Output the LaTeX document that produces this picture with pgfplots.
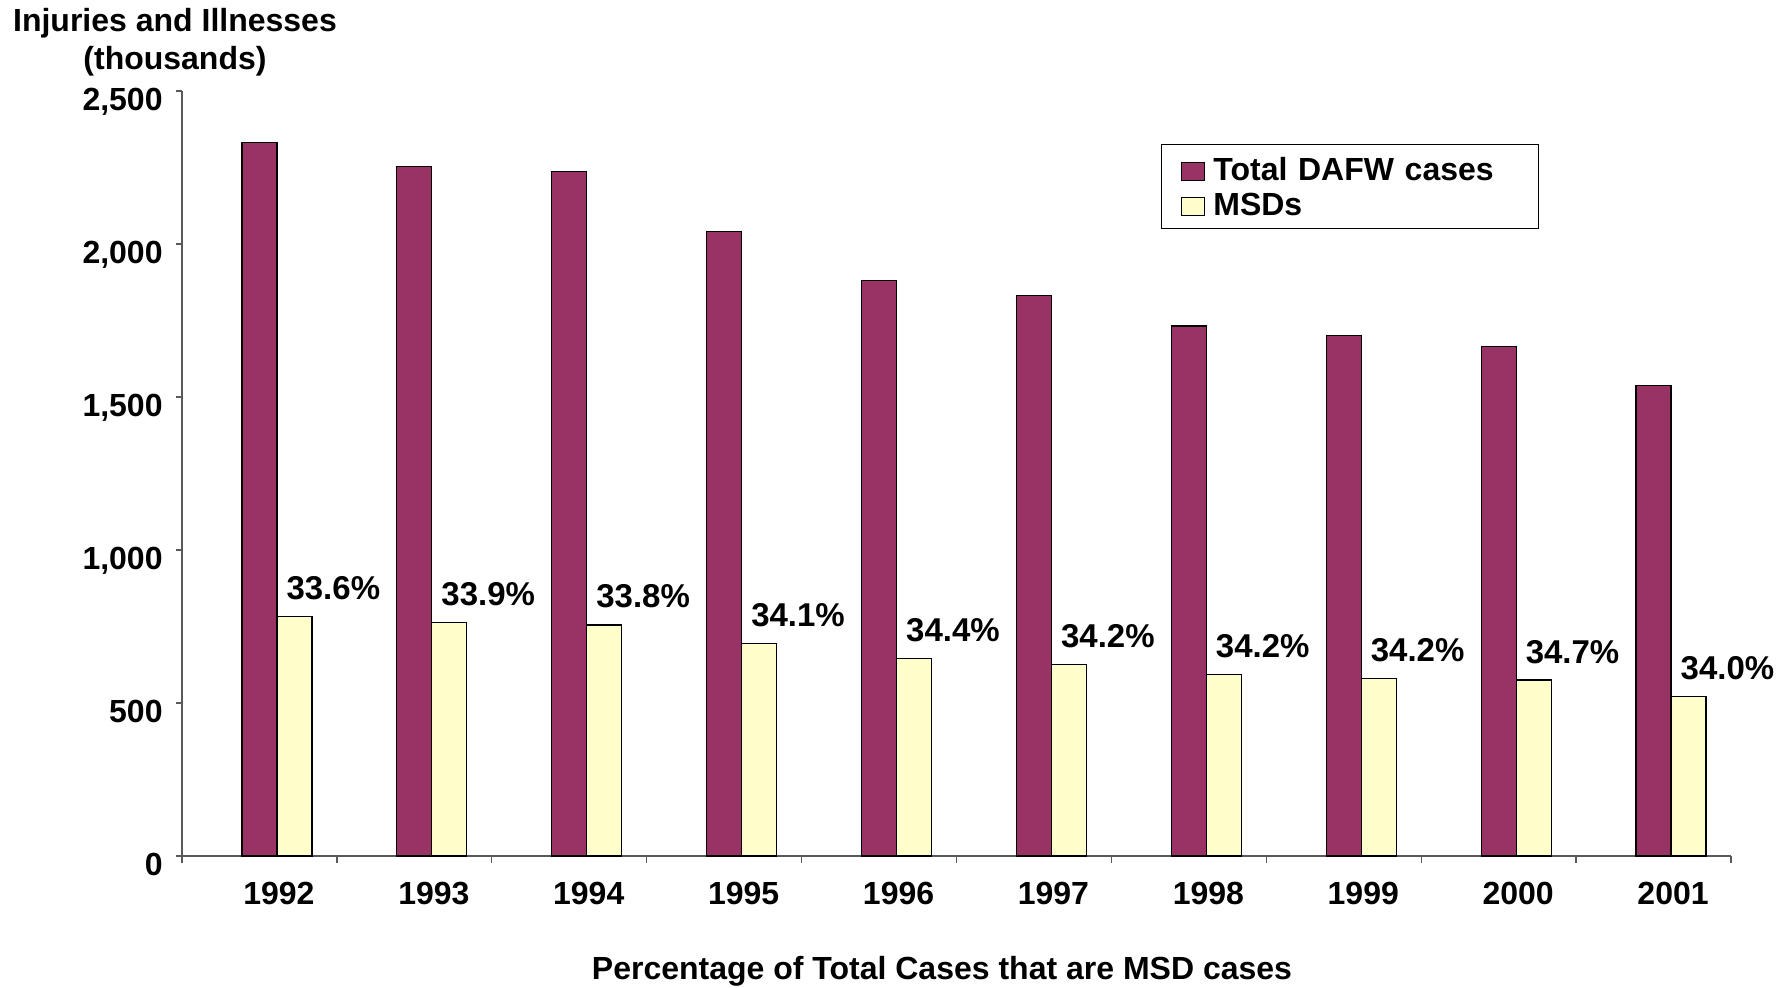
\documentclass[border=0pt]{standalone}
\usepackage{fontspec}
\setmainfont{Liberation Sans}
\usepackage{pgfplots}
\pgfplotsset{compat=1.18}
\definecolor{plum}{HTML}{993366}
\definecolor{lightyel}{HTML}{FFFFCC}
\newcommand\f{\fontsize{16}{19}\selectfont\bfseries}
\newcommand\fp{\fontsize{16.5}{19}\selectfont\bfseries}
\begin{document}
\begin{tikzpicture}
\useasboundingbox (-91pt,-66pt) rectangle (801.5pt,428pt);
\begin{axis}[
  at={(0pt,0pt)}, anchor=south west,
  scale only axis, width=774.5pt, height=382.5pt,
  xmin=-0.5, xmax=9.5, ymin=0, ymax=2500,
  axis lines=left,
  axis line style={-, draw=black!65, line width=0.7pt},
  tick style={draw=black!65, line width=0.7pt},
  tick align=outside,
  xtick={0,...,9},
  xticklabels={1992,1993,1994,1995,1996,1997,1998,1999,2000,2001},
  major x tick style={draw=none},
  minor xtick={-0.5,0.5,...,9.5},
  minor tick length=3.5pt,
  major tick length=3pt,
  ytick={0,500,1000,1500,2000,2500},
  yticklabels={0,500,{1,000},{1,500},{2,000},{2,500}},
  xticklabel style={font=\f, anchor=base, inner sep=0pt, xshift=9.75pt, yshift=-21.5pt},
  yticklabel style={font=\f, anchor=base east, inner sep=0pt, xshift=-6.5pt, yshift=-10pt},
  legend style={draw=black, line width=0.6pt, fill=white,
    at={(0.632,0.9307)}, anchor=north west,
    inner xsep=9.5pt, inner ysep=5pt, row sep=3.15pt,
    nodes={inner sep=0pt, anchor=base west, text width=153pt, text height=13pt, text depth=1.35pt, font=\f},
    /tikz/every odd column/.append style={column sep=4.3pt}},
  legend image code/.code={\draw[#1, draw=black, line width=0.6pt] (0pt,0pt) rectangle (11.5pt,9pt);},
  clip=false,
]
\addplot[ybar, fill=plum, draw=black, line width=0.6pt, bar width=17.5pt, bar shift=0pt]
  coordinates {(0,2332) (1,2252) (2,2236) (3,2040) (4,1880) (5,1832) (6,1732) (7,1701) (8,1664) (9,1537)};
\addlegendentry{Total DAFW cases}
\addplot[ybar, fill=lightyel, draw=black, line width=0.6pt, bar width=17.5pt, bar shift=17.5pt,
  point meta=explicit symbolic,
  nodes near coords,
  every node near coord/.append style={font=\fp, anchor=base west, inner sep=0pt, xshift=13.25pt, yshift=8.5pt, text=black}]
  coordinates {(0,782)[33.6\%] (1,763)[33.9\%] (2,755)[33.8\%] (3,694)[34.1\%] (4,646)[34.4\%] (5,626)[34.2\%] (6,592)[34.2\%] (7,581)[34.2\%] (8,575)[34.7\%] (9,522)[34.0\%]};
\addlegendentry{MSDs}
\node[font=\f, anchor=base, inner sep=0pt] at ([xshift=-3.5pt, yshift=29.65pt]rel axis cs:0,1) {Injuries and Illnesses};
\node[font=\f, anchor=base, inner sep=0pt] at ([xshift=-3.5pt, yshift=10.5pt]rel axis cs:0,1) {(thousands)};
\node[font=\f, anchor=base, inner sep=0pt] at ([xshift=380pt, yshift=-62pt]rel axis cs:0,0) {Percentage of Total Cases that are MSD cases};
\end{axis}
\end{tikzpicture}
\end{document}
